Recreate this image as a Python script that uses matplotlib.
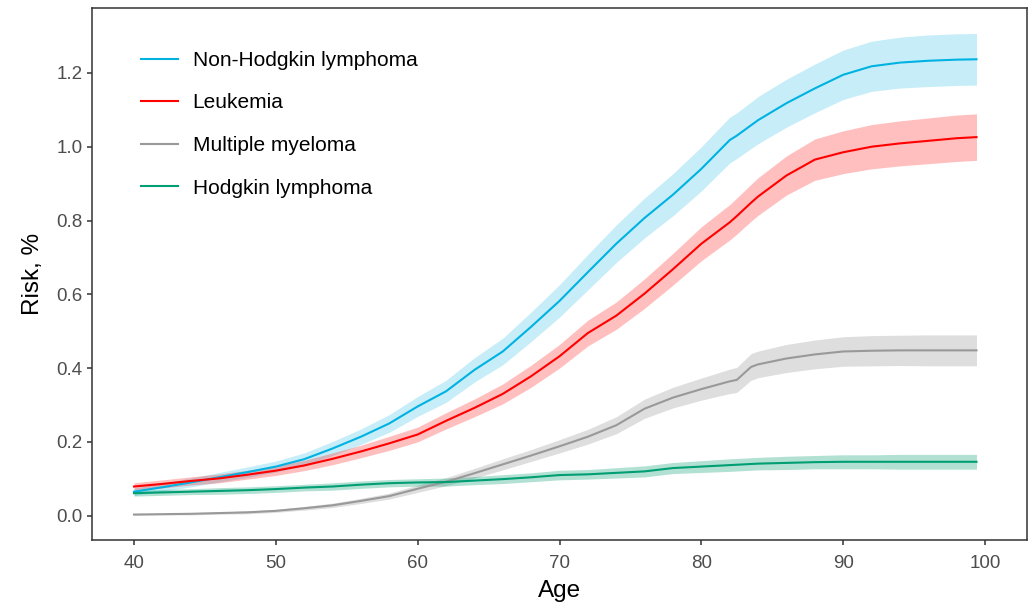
import matplotlib.pyplot as plt
import numpy as np

plt.rcParams['font.family'] = ['Liberation Sans', 'DejaVu Sans']

age = [40, 42, 44, 46, 48, 50, 52, 54, 56, 58, 60, 62, 64, 66, 68, 70, 72, 74,
       76, 78, 80, 82, 82.5, 83.5, 84, 86, 88, 90, 92, 94, 96, 98, 99.4]

# cumulative risk (%) and half-width of the confidence band
nhl = [0.065, 0.077, 0.090, 0.104, 0.118, 0.133, 0.153, 0.182, 0.214, 0.250,
       0.296, 0.337, 0.395, 0.445, 0.512, 0.582, 0.660, 0.737, 0.807, 0.870,
       0.940, 1.018, 1.030, 1.058, 1.072, 1.118, 1.158, 1.195, 1.218, 1.228,
       1.233, 1.236, 1.237]
nhl_ci = [0.010, 0.011, 0.012, 0.013, 0.014, 0.015, 0.017, 0.019, 0.021, 0.024,
          0.027, 0.030, 0.033, 0.036, 0.040, 0.044, 0.048, 0.051, 0.054, 0.057,
          0.060, 0.062, 0.062, 0.063, 0.064, 0.065, 0.066, 0.067, 0.068, 0.069,
          0.070, 0.070, 0.070]

leuk = [0.079, 0.086, 0.094, 0.101, 0.111, 0.122, 0.136, 0.154, 0.174, 0.196,
        0.220, 0.257, 0.292, 0.330, 0.378, 0.432, 0.495, 0.542, 0.602, 0.668,
        0.737, 0.795, 0.812, 0.848, 0.865, 0.922, 0.965, 0.985, 1.000, 1.009,
        1.016, 1.023, 1.026]
leuk_ci = [0.010, 0.011, 0.011, 0.012, 0.012, 0.013, 0.014, 0.016, 0.017, 0.019,
           0.020, 0.022, 0.024, 0.027, 0.030, 0.032, 0.035, 0.037, 0.040, 0.043,
           0.046, 0.048, 0.049, 0.050, 0.051, 0.053, 0.056, 0.058, 0.060, 0.061,
           0.062, 0.063, 0.063]

mm = [0.003, 0.004, 0.005, 0.007, 0.009, 0.013, 0.020, 0.028, 0.040, 0.053,
      0.073, 0.092, 0.115, 0.139, 0.163, 0.188, 0.214, 0.245, 0.290, 0.320,
      0.343, 0.364, 0.368, 0.403, 0.410, 0.426, 0.437, 0.445, 0.447, 0.448,
      0.448, 0.448, 0.448]
mm_ci = [0.002, 0.002, 0.003, 0.003, 0.004, 0.004, 0.005, 0.006, 0.007, 0.008,
         0.010, 0.011, 0.013, 0.015, 0.016, 0.018, 0.020, 0.023, 0.026, 0.028,
         0.030, 0.033, 0.034, 0.036, 0.036, 0.038, 0.039, 0.040, 0.041, 0.041,
         0.042, 0.042, 0.042]

hl = [0.061, 0.063, 0.065, 0.067, 0.069, 0.072, 0.076, 0.079, 0.084, 0.088,
      0.090, 0.091, 0.095, 0.099, 0.104, 0.110, 0.112, 0.116, 0.120, 0.129,
      0.133, 0.137, 0.138, 0.140, 0.141, 0.143, 0.145, 0.146, 0.146, 0.146,
      0.146, 0.146, 0.146]
hl_ci = [0.008, 0.008, 0.008, 0.009, 0.009, 0.009, 0.009, 0.010, 0.010, 0.010,
         0.010, 0.011, 0.011, 0.012, 0.012, 0.013, 0.013, 0.014, 0.015, 0.015,
         0.016, 0.017, 0.017, 0.017, 0.017, 0.018, 0.018, 0.019, 0.019, 0.020,
         0.020, 0.020, 0.020]

series = [
    ("Non-Hodgkin lymphoma", nhl, nhl_ci, "#00B2E2", 0.22),
    ("Leukemia", leuk, leuk_ci, "#FF0000", 0.25),
    ("Multiple myeloma", mm, mm_ci, "#999999", 0.32),
    ("Hodgkin lymphoma", hl, hl_ci, "#009E73", 0.30),
]

fig = plt.figure(figsize=(10.3, 6.02), dpi=100)
ax = fig.add_axes([92 / 1030, 1 - 540 / 602, (1027 - 92) / 1030, (540 - 8) / 602])

# bands first, then lines on top
for name, y, ci, col, a in series:
    y = np.array(y)
    ci = np.array(ci)
    ax.fill_between(age, y - ci, y + ci, color=col, alpha=a, linewidth=0)
for name, y, ci, col, a in series:
    ax.plot(age, y, color=col, lw=1.5, label=name)

ax.set_xlim(37.04, 102.96)
ax.set_ylim(-0.066, 1.376)
ax.set_xticks([40, 50, 60, 70, 80, 90, 100])
ax.set_yticks([0.0, 0.2, 0.4, 0.6, 0.8, 1.0, 1.2])
ax.set_yticklabels(["0.0", "0.2", "0.4", "0.6", "0.8", "1.0", "1.2"])
ax.tick_params(colors="#333333", labelcolor="#4D4D4D", labelsize=13.5,
               width=1.1, length=3.5)
ax.tick_params(axis="x", pad=7)
for s in ax.spines.values():
    s.set_color("#333333")
    s.set_linewidth(1.1)

ax.set_xlabel("Age", fontsize=17.5, labelpad=6)
ax.set_ylabel("Risk, %", fontsize=17.5, labelpad=9)

leg = ax.legend(loc="upper left", bbox_to_anchor=(0.043, 0.935), frameon=False,
                fontsize=15, handlelength=1.78, labelspacing=1.13,
                handletextpad=0.72, borderaxespad=0)

fig.savefig("out.png", dpi=100)
